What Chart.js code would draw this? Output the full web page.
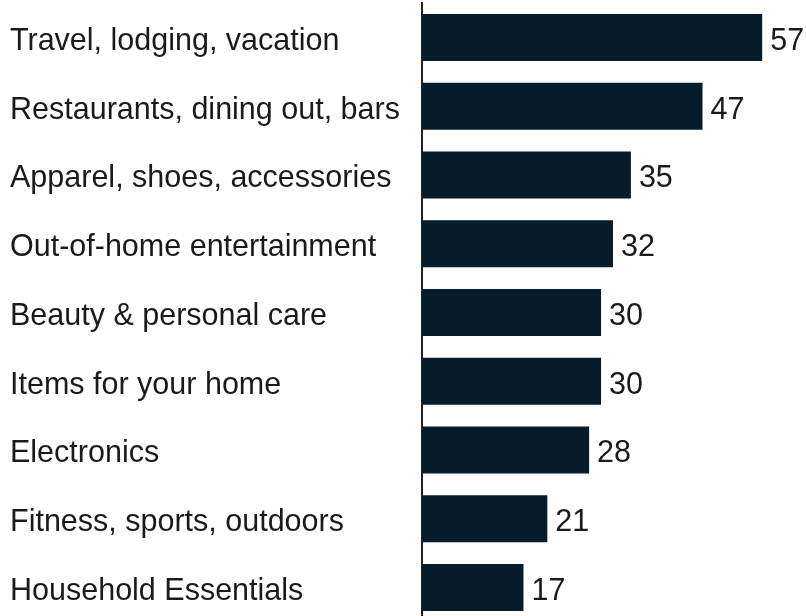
<!DOCTYPE html>
<html>
<head>
<meta charset="utf-8">
<script src="https://cdn.jsdelivr.net/npm/chart.js@4"></script>
<style>
  html, body { margin: 0; padding: 0; background: #ffffff; overflow: hidden; }
  #wrap { width: 806px; height: 622px; }
</style>
</head>
<body>
<div id="wrap"><canvas id="chart" width="806" height="622"></canvas></div>
<script>
// Spending categories and their shares
const categories = [
  'Travel, lodging, vacation',
  'Restaurants, dining out, bars',
  'Apparel, shoes, accessories',
  'Out-of-home entertainment',
  'Beauty & personal care',
  'Items for your home',
  'Electronics',
  'Fitness, sports, outdoors',
  'Household Essentials'
];
const values = [57, 47, 35, 32, 30, 30, 28, 21, 17];

const FONT = '"Liberation Sans", Arial, Helvetica, sans-serif';
const BAR_COLOR = '#061c2c';
const TEXT_COLOR = '#1a1a1a';
const FONT_SIZE = 30.5;

// Writes each value just past the end of its bar
const valueLabels = {
  id: 'valueLabels',
  afterDatasetsDraw(chart) {
    const { ctx } = chart;
    const meta = chart.getDatasetMeta(0);
    ctx.save();
    ctx.font = FONT_SIZE + 'px ' + FONT;
    ctx.fillStyle = TEXT_COLOR;
    ctx.textAlign = 'left';
    ctx.textBaseline = 'middle';
    meta.data.forEach((bar, i) => {
      ctx.fillText(String(values[i]), bar.x + 8, bar.y + 4);
    });
    ctx.restore();
  }
};

new Chart(document.getElementById('chart'), {
  type: 'bar',
  data: {
    labels: categories,
    datasets: [{
      data: values,
      backgroundColor: BAR_COLOR,
      borderWidth: 0,
      categoryPercentage: 1.0,
      barPercentage: 0.683
    }]
  },
  options: {
    indexAxis: 'y',
    responsive: false,
    animation: false,
    layout: { padding: { left: 10, right: 8, top: 3, bottom: 0 } },
    plugins: {
      legend: { display: false },
      tooltip: { enabled: false }
    },
    scales: {
      x: {
        display: false,
        min: 0,
        max: 63
      },
      y: {
        afterFit(scale) {
          scale.width = 412;
          // labels sit at band centres, so no extra room is needed above/below
          scale.paddingTop = 0;
          scale.paddingBottom = 0;
        },
        grid: { display: false, drawTicks: false },
        border: { display: true, color: '#222222', width: 2 },
        ticks: {
          crossAlign: 'far',
          padding: 0,
          labelOffset: 4,
          color: TEXT_COLOR,
          font: { family: FONT, size: FONT_SIZE }
        }
      }
    }
  },
  plugins: [valueLabels]
});
</script>
</body>
</html>
